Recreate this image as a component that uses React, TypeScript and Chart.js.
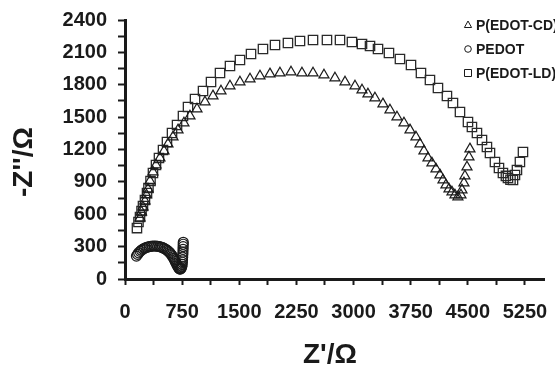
import React, { useEffect, useRef } from "react";
import { Chart, registerables } from "chart.js";

Chart.register(...registerables);

const seriesNames = ["P(EDOT-CD)", "PEDOT", "P(EDOT-LD)"];

// major (labelled) and minor tick values
const xTickLabels = [0, 750, 1500, 2250, 3000, 3750, 4500, 5250];
const xMinorTicks = [375, 1125, 1875, 2625, 3375, 4125, 4875];
const yTickLabels = [0, 300, 600, 900, 1200, 1500, 1800, 2100, 2400];
const yMinorTicks = [150, 450, 750, 1050, 1350, 1650, 1950, 2250];

const cdX = [197, 217, 236, 262, 282, 302, 328, 367, 407, 459, 512, 564, 630, 696, 774, 853, 945, 1050, 1155, 1260, 1378, 1509, 1641, 1772, 1903, 2034, 2179, 2323, 2468, 2612, 2756, 2888, 3019, 3111, 3189, 3281, 3386, 3478, 3570, 3662, 3741, 3819, 3872, 3924, 3977, 4029, 4082, 4134, 4174, 4213, 4253, 4292, 4331, 4370, 4410, 4423, 4449, 4462, 4489, 4515, 4528];
const cdY = [565, 621, 667, 723, 778, 834, 908, 991, 1056, 1121, 1186, 1251, 1316, 1381, 1445, 1510, 1575, 1640, 1696, 1742, 1788, 1825, 1853, 1881, 1900, 1909, 1918, 1909, 1909, 1890, 1862, 1825, 1788, 1751, 1714, 1677, 1622, 1566, 1501, 1445, 1381, 1316, 1251, 1186, 1121, 1075, 1019, 964, 917, 871, 834, 806, 778, 760, 778, 825, 890, 954, 1038, 1130, 1205];

const pedotX = [150, 165, 180, 198, 215, 235, 255, 275, 295, 318, 340, 362, 385, 408, 430, 452, 474, 495, 515, 535, 553, 570, 586, 600, 614, 627, 639, 650, 661, 671, 681, 690, 699, 708, 716, 724, 732, 740, 746, 750, 753, 755, 757, 759, 761, 762, 763, 764, 765];
const pedotY = [212, 228, 243, 256, 267, 277, 285, 291, 296, 300, 303, 305, 306, 305, 303, 300, 296, 290, 283, 275, 266, 256, 245, 233, 220, 206, 192, 177, 162, 147, 133, 120, 109, 100, 94, 92, 95, 104, 118, 135, 155, 178, 202, 226, 250, 275, 300, 322, 340];

const ldX = [157, 177, 197, 217, 236, 262, 289, 308, 335, 367, 407, 446, 499, 551, 617, 683, 761, 827, 919, 1024, 1129, 1247, 1378, 1509, 1654, 1811, 1969, 2139, 2297, 2468, 2651, 2822, 2979, 3111, 3216, 3321, 3465, 3609, 3754, 3885, 4003, 4108, 4226, 4305, 4397, 4502, 4554, 4620, 4686, 4751, 4791, 4856, 4909, 4961, 5000, 5027, 5060, 5093, 5119, 5145, 5184, 5224];
const ldY = [472, 528, 574, 630, 676, 732, 797, 843, 908, 982, 1056, 1121, 1195, 1269, 1353, 1427, 1510, 1594, 1668, 1742, 1825, 1909, 1974, 2029, 2085, 2131, 2168, 2187, 2205, 2215, 2215, 2215, 2196, 2178, 2159, 2131, 2094, 2039, 1983, 1909, 1844, 1770, 1696, 1631, 1547, 1455, 1408, 1353, 1288, 1223, 1168, 1084, 1029, 982, 955, 936, 920, 917, 964, 1010, 1084, 1177];

const FONT = "'Liberation Sans', Arial, Helvetica, sans-serif";
const INK = "#1a1a1a";

const toPoints = (xs: number[], ys: number[]) => xs.map((x, i) => ({ x, y: ys[i] }));
const allTicks = (major: number[], minor: number[]) =>
  [...major, ...minor].sort((a, b) => a - b).map((value) => ({ value }));

const overlayPlugin = {
  id: "overlay",
  afterDraw(chart: any) {
    const ctx = chart.ctx;
    ctx.save();
    ctx.fillStyle = INK;
    ctx.strokeStyle = INK;
    // axis titles
    ctx.font = `bold 28px ${FONT}`;
    ctx.textAlign = "center";
    ctx.textBaseline = "middle";
    ctx.fillText("Z'/\u03A9", 330, 355);
    ctx.save();
    ctx.translate(24, 162);
    ctx.rotate(-Math.PI / 2);
    ctx.fillText("-Z''/\u03A9", 0, 0);
    ctx.restore();
    // legend
    const styles = ["triangle", "circle", "rect"];
    ctx.font = `bold 14px ${FONT}`;
    ctx.textAlign = "left";
    ctx.lineWidth = 1;
    chart.data.datasets.forEach((ds: any, i: number) => {
      const cy = 25 + i * 24;
      const cx = 468;
      ctx.beginPath();
      if (styles[i] === "triangle") {
        ctx.moveTo(cx, cy - 4);
        ctx.lineTo(cx + 3.6, cy + 2.5);
        ctx.lineTo(cx - 3.6, cy + 2.5);
        ctx.closePath();
      } else if (styles[i] === "circle") {
        ctx.arc(cx, cy, 3.3, 0, Math.PI * 2);
      } else {
        ctx.rect(cx - 3.5, cy - 3.5, 7, 7);
      }
      ctx.stroke();
      ctx.fillText(ds.label, 476, cy + 1);
    });
    ctx.restore();
  },
};

export default function App() {
  const ref = useRef<HTMLCanvasElement | null>(null);
  useEffect(() => {
    if (!ref.current) return;
    const chart = new Chart(ref.current, {
      type: "scatter",
      data: {
        datasets: [
          {
            label: seriesNames[0],
            data: toPoints(cdX, cdY),
            pointStyle: "triangle",
            pointRadius: 5.8,
            borderColor: INK,
            backgroundColor: "rgba(255,255,255,0)",
            borderWidth: 1.2,
          },
          {
            label: seriesNames[1],
            data: toPoints(pedotX, pedotY),
            pointStyle: "circle",
            pointRadius: 5,
            borderColor: INK,
            backgroundColor: "rgba(255,255,255,0)",
            borderWidth: 1.2,
          },
          {
            label: seriesNames[2],
            data: toPoints(ldX, ldY),
            pointStyle: "rect",
            pointRadius: 6.6,
            borderColor: "#2a2a2a",
            backgroundColor: "rgba(255,255,255,0)",
            borderWidth: 1.3,
          },
        ],
      },
      options: {
        responsive: false,
        animation: false,
        devicePixelRatio: 1,
        layout: { padding: { top: 20, right: 11, left: 0, bottom: 0 } },
        plugins: { legend: { display: false }, tooltip: { enabled: false } },
        scales: {
          x: {
            type: "linear",
            min: 0,
            max: 5500,
            afterBuildTicks: (s: any) => {
              s.ticks = allTicks(xTickLabels, xMinorTicks);
            },
            afterFit: (s: any) => {
              s.height = 88;
              s.paddingLeft = 0;
              s.paddingRight = 0;
            },
            ticks: {
              autoSkip: false,
              maxRotation: 0,
              minRotation: 0,
              padding: 15,
              color: INK,
              font: { family: FONT, size: 20, weight: "bold" },
              callback: (v: any) => (xTickLabels.includes(Number(v)) ? String(v) : ""),
            },
            grid: { drawOnChartArea: false, drawTicks: true, tickLength: 6, tickWidth: 2, tickColor: INK },
            border: { display: true, width: 3, color: INK },
          },
          y: {
            type: "linear",
            min: 0,
            max: 2400,
            afterBuildTicks: (s: any) => {
              s.ticks = allTicks(yTickLabels, yMinorTicks);
            },
            afterFit: (s: any) => {
              s.width = 125;
              s.paddingTop = 0;
              s.paddingBottom = 0;
            },
            ticks: {
              autoSkip: false,
              padding: 11,
              color: INK,
              font: { family: FONT, size: 20, weight: "bold" },
              callback: (v: any) => (yTickLabels.includes(Number(v)) ? String(v) : ""),
            },
            grid: { drawOnChartArea: false, drawTicks: true, tickLength: 7, tickWidth: 2, tickColor: INK },
            border: { display: true, width: 3, color: INK },
          },
        },
      },
      plugins: [overlayPlugin],
    } as any);
    return () => chart.destroy();
  }, []);
  return (
    <div style={{ position: "absolute", left: 0, top: 0, width: 555, height: 367, background: "#fff" }}>
      <canvas ref={ref} width={555} height={367} />
    </div>
  );
}
